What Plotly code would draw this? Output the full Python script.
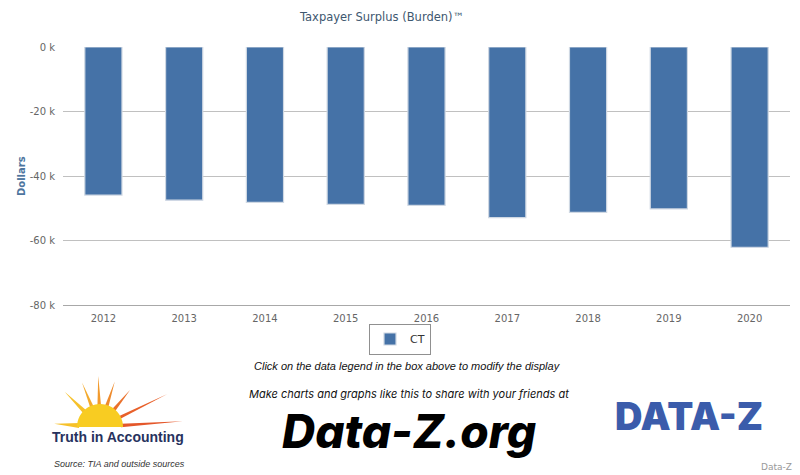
import numpy as np
import plotly.graph_objects as go

# ---- data ----
years = ["2012", "2013", "2014", "2015", "2016", "2017", "2018", "2019", "2020"]
ct_values = [-45900, -47500, -48200, -48800, -49100, -52900, -51300, -50200, -62100]
y_tickvals = [0, -20000, -40000, -60000, -80000]
y_ticktext = ["0 k", "-20 k", "-40 k", "-60 k", "-80 k"]

W, H = 800, 475
L, R, T, B = 63, 790, 47, 305


def px(x):
    return (x - L) / (R - L)


def py(y):
    return (B - y) / (B - T)


fig = go.Figure()
fig.add_trace(go.Bar(
    x=years, y=ct_values, name="CT",
    marker=dict(color="#4572A7", line=dict(color="#cfd8e3", width=1.2)),
    width=0.46,
))

annotations = []
shapes = []

# y axis title
annotations.append(dict(
    text="Dollars", x=px(21), y=py(176), xref="paper", yref="paper",
    showarrow=False, textangle=-90, xanchor="center", yanchor="middle",
    font=dict(family="DejaVu Sans", size=10, color="#4d759e", weight="bold"),
))

# footer texts
annotations.append(dict(
    text="Click on the data legend in the box above to modify the display",
    x=px(407), y=py(366), xref="paper", yref="paper", showarrow=False,
    xanchor="center", yanchor="middle",
    font=dict(family="Liberation Sans", size=11, color="#111111", style="italic"),
))
annotations.append(dict(
    text="Make charts and graphs like this to share with your friends at",
    x=px(409), y=py(394), xref="paper", yref="paper", showarrow=False,
    xanchor="center", yanchor="middle",
    font=dict(family="Inter", size=11, color="#111111", style="italic"),
))
annotations.append(dict(
    text="Data-Z.org",
    x=px(409), y=py(431), xref="paper", yref="paper", showarrow=False,
    xanchor="center", yanchor="middle",
    font=dict(family="Inter", size=46, color="#000000", style="italic", weight=800),
))
annotations.append(dict(
    text="Truth in Accounting",
    x=px(118), y=py(437), xref="paper", yref="paper", showarrow=False,
    xanchor="center", yanchor="middle",
    font=dict(family="Liberation Sans", size=14, color="#27325e", weight="bold"),
))
annotations.append(dict(
    text="Source: TIA and outside sources",
    x=px(52), y=py(464), xref="paper", yref="paper", showarrow=False,
    xanchor="left", yanchor="middle",
    font=dict(family="Liberation Sans", size=9, color="#333333", style="italic"),
))
annotations.append(dict(
    text="DATA-Z",
    x=px(689), y=py(416), xref="paper", yref="paper", showarrow=False,
    xanchor="center", yanchor="middle",
    font=dict(family="Inter", size=38, color="#3b5cab", weight=900),
))
annotations.append(dict(
    text="Data-Z",
    x=px(776), y=py(467), xref="paper", yref="paper", showarrow=False,
    xanchor="center", yanchor="middle",
    font=dict(family="DejaVu Sans", size=9, color="#999999"),
))

# sun logo (decoration)
cx, cy, r = 100, 427, 23


def path_from(points):
    s = "M " + " L ".join(f"{px(a):.5f},{py(b):.5f}" for a, b in points) + " Z"
    return s


rays = [  # angle (deg), length, half-width (deg), colour
    (176, 46, 7, "#f6c12a"),
    (135, 50, 6, "#f6c12a"),
    (112, 48, 5, "#f3a92c"),
    (92, 51, 5, "#f29a2c"),
    (72, 48, 5, "#ee8a2c"),
    (51, 48, 5, "#ea712c"),
    (26, 75, 4, "#e8602a"),
    (4, 83, 5, "#e4572a"),
]
for ang, ln, hw, col in rays:
    a0 = np.radians(ang - hw)
    a1 = np.radians(ang + hw)
    a = np.radians(ang)
    rb = r - 2
    pts = [(cx + rb * np.cos(a0), cy - rb * np.sin(a0)),
           (cx + ln * np.cos(a), cy - ln * np.sin(a)),
           (cx + rb * np.cos(a1), cy - rb * np.sin(a1))]
    shapes.append(dict(type="path", xref="paper", yref="paper", path=path_from(pts),
                       fillcolor=col, line=dict(width=0), layer="above"))
th = np.linspace(0, np.pi, 40)
sun_pts = [(cx + r * np.cos(t), cy - r * np.sin(t)) for t in th]
shapes.append(dict(type="path", xref="paper", yref="paper", path=path_from(sun_pts),
                   fillcolor="#f8cc22", line=dict(width=0), layer="above"))

fig.update_layout(
    width=W, height=H,
    margin=dict(l=L, r=W - R, t=T, b=H - B, autoexpand=False),
    paper_bgcolor="white", plot_bgcolor="white",
    title=dict(text="Taxpayer Surplus (Burden)™", x=382 / W, xref="container",
               xanchor="center", y=1 - 17 / H, yref="container", yanchor="middle",
               font=dict(family="DejaVu Sans", size=11.5, color="#3E576F")),
    font=dict(family="DejaVu Sans", color="#666666"),
    showlegend=True,
    legend=dict(
        x=0.5, xref="container", xanchor="center",
        y=1 - 339 / H, yref="container", yanchor="middle",
        orientation="h", bgcolor="white", bordercolor="#909090", borderwidth=1,
        font=dict(family="DejaVu Sans", size=11, color="#333333"),
        itemwidth=30,
    ),
    xaxis=dict(
        type="category", showgrid=False, showline=True, linecolor="#a8a8a8",
        linewidth=1, ticks="", tickfont=dict(family="DejaVu Sans", size=10, color="#666666"),
        ticklabelstandoff=4,
    ),
    yaxis=dict(
        range=[-80000, 0], tickvals=y_tickvals, ticktext=y_ticktext,
        showgrid=True, gridcolor="#c0c0c0", gridwidth=1, zeroline=False,
        showline=False, ticks="",
        tickfont=dict(family="DejaVu Sans", size=10, color="#666666"),
        ticklabelstandoff=7,
    ),
    annotations=annotations,
    shapes=shapes,
    bargap=0.54,
)

fig.write_html(
    "out.html",
    config={"displayModeBar": False},
    post_script="document.body.style.margin='0';document.body.style.padding='0';",
)
